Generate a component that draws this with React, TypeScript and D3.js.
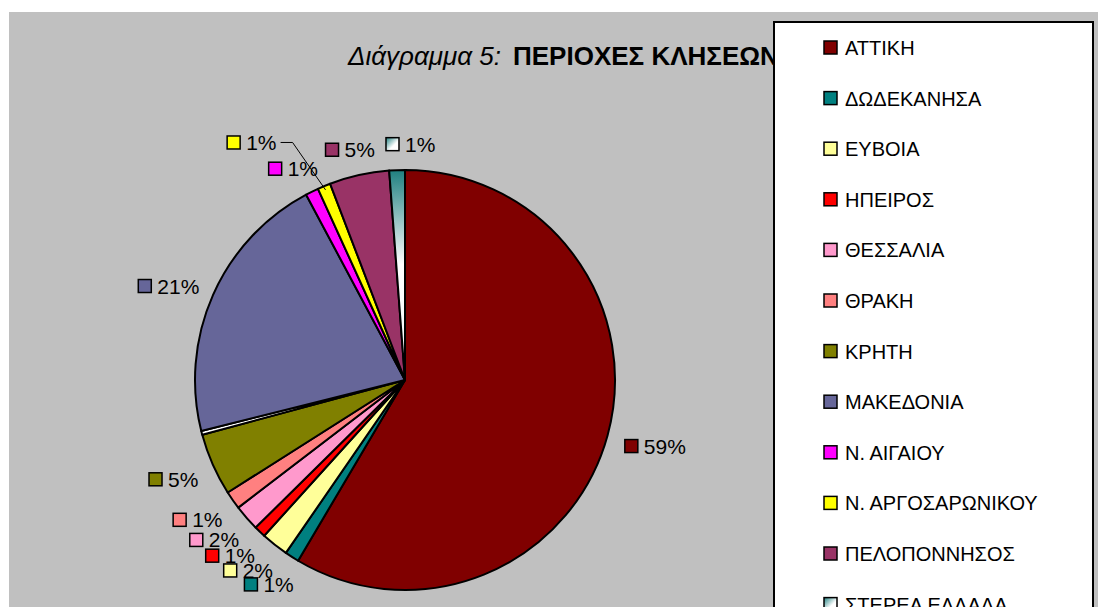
import React from 'react';
import * as d3 from 'd3';

const categories = ['ΑΤΤΙΚΗ', 'ΔΩΔΕΚΑΝΗΣΑ', 'ΕΥΒΟΙΑ', 'ΗΠΕΙΡΟΣ', 'ΘΕΣΣΑΛΙΑ', 'ΘΡΑΚΗ', 'ΚΡΗΤΗ', '', 'ΜΑΚΕΔΟΝΙΑ', 'Ν. ΑΙΓΑΙΟΥ', 'Ν. ΑΡΓΟΣΑΡΩΝΙΚΟΥ', 'ΠΕΛΟΠΟΝΝΗΣΟΣ', 'ΣΤΕΡΕΑ ΕΛΛΑΔΑ'];
const values = [58.5, 1.1, 2.1, 0.9, 2.0, 1.4, 4.8, 0.3, 21.1, 1.0, 1.0, 4.6, 1.2];
const colors = ['#800000', '#008080', '#FFFF99', '#FF0000', '#FF99CC', '#FF8080', '#808000', '#FFFFFF', '#666699', '#FF00FF', '#FFFF00', '#993366', 'gradient'];
const titleItalic = 'Διάγραμμα 5:';
const titleBold = 'ΠΕΡΙΟΧΕΣ ΚΛΗΣΕΩΝ';

const W = 1098;
const H = 607;
const cx = 405;
const cy = 380;
const R = 210;
const labelR = 228;
const FONT = 'Arial, "Liberation Sans", sans-serif';

export default function App() {
  const total = d3.fsum(values);
  const data = categories.map((c, i) => ({ name: c, value: values[i], color: colors[i], i }));
  const pie = d3.pie<any>().sort(null).value((d: any) => d.value);
  const arcs = pie(data);
  const arcGen = d3.arc<any>().innerRadius(0).outerRadius(R);
  const pct = (v: number) => Math.round((v * 100) / total) + '%';
  const fillOf = (c: string, legend = false) => (c === 'gradient' ? (legend ? 'url(#stereaLeg)' : 'url(#stereaGrad)') : c);

  // label placement
  const fontSize = 21;
  const sq = 13;
  const gap = 7;
  const placed: any[] = [];
  const labels: any[] = [];
  arcs.forEach((a: any) => {
    if (!a.data.name) return;
    const mid = (a.startAngle + a.endAngle) / 2;
    const dx = Math.sin(mid);
    const dy = -Math.cos(mid);
    const text = pct(a.data.value);
    const tw = text.length === 3 ? fontSize * 2.0 : fontSize * 1.45;
    const w = sq + gap + tw;
    const h = 22;
    const px = cx + dx * labelR;
    const py = cy + dy * labelR;
    let bx = px + dx * w / 2 - w / 2;
    let by = py + dy * h / 2 - h / 2 + 3;
    let leader: any = null;
    if (py < cy) {
      const hit = placed.find((b) => bx < b.x + b.w && bx + w > b.x && by < b.y + b.h && by + h > b.y);
      if (hit) {
        if (Math.abs(dx) < 0.15) {
          bx = hit.x + hit.w + 10;
        } else {
          bx -= 56;
          by -= 20;
          const ex = cx + dx * (R - 4);
          const ey = cy + dy * (R - 4);
          leader = [[bx + w + 4, by + h / 2], [bx + w + 16, by + h / 2], [ex, ey]];
        }
      }
    }
    const box = { x: bx, y: by, w, h };
    placed.push(box);
    labels.push({ ...box, text, color: a.data.color, leader, key: a.data.i });
  });

  const legendItems = data.filter((d) => d.name);

  return (
    <svg width={W} height={H} style={{ position: 'absolute', left: 0, top: 0 }} xmlns="http://www.w3.org/2000/svg">
      <defs>
        <linearGradient id="stereaGrad" gradientUnits="userSpaceOnUse" x1={0} y1={-R} x2={0} y2={0}>
          <stop offset="0" stopColor="#1f8080" />
          <stop offset="0.45" stopColor="#ffffff" />
          <stop offset="1" stopColor="#f0f4f4" />
        </linearGradient>
        <linearGradient id="stereaLeg" x1="0" y1="0" x2="1" y2="1">
          <stop offset="0" stopColor="#1f8080" />
          <stop offset="0.6" stopColor="#ffffff" />
          <stop offset="1" stopColor="#ffffff" />
        </linearGradient>
      </defs>
      <rect x={0} y={0} width={W} height={H} fill="#ffffff" />
      <rect x={9} y={12} width={W - 9} height={H - 12} fill="#C0C0C0" />

      <text x={348} y={65} fontFamily={FONT} fontSize={26} fill="#000">
        <tspan fontStyle="italic">{titleItalic}</tspan>
        <tspan fontWeight="bold" dx={12}>{titleBold}</tspan>
      </text>

      <g transform={`translate(${cx},${cy})`}>
        {arcs.map((a: any) => (
          <path key={a.data.i} d={arcGen(a) as string} fill={fillOf(a.data.color)} stroke="#000" strokeWidth={2} strokeLinejoin="round" />
        ))}
      </g>

      {labels.map((l) => (
        <g key={l.key}>
          {l.leader && <polyline points={l.leader.map((p: number[]) => p.join(',')).join(' ')} fill="none" stroke="#000" strokeWidth={1} />}
          <rect x={l.x + 1} y={l.y + (l.h - sq) / 2} width={sq} height={sq} fill={fillOf(l.color, true)} stroke="#000" strokeWidth={1.5} />
          <text x={l.x + sq + gap} y={l.y + l.h / 2} dominantBaseline="central" fontFamily={FONT} fontSize={fontSize} fill="#000">{l.text}</text>
        </g>
      ))}

      <rect x={774} y={22} width={319} height={620} fill="#ffffff" stroke="#000" strokeWidth={2} />
      {legendItems.map((d, k) => {
        const y = 48 + k * 50.6;
        return (
          <g key={d.i}>
            <rect x={824} y={y - 7} width={13} height={13} fill={fillOf(d.color, true)} stroke="#000" strokeWidth={1.5} />
            <text x={845} y={y} dominantBaseline="central" fontFamily={FONT} fontSize={20} fill="#000">{d.name}</text>
          </g>
        );
      })}
    </svg>
  );
}
